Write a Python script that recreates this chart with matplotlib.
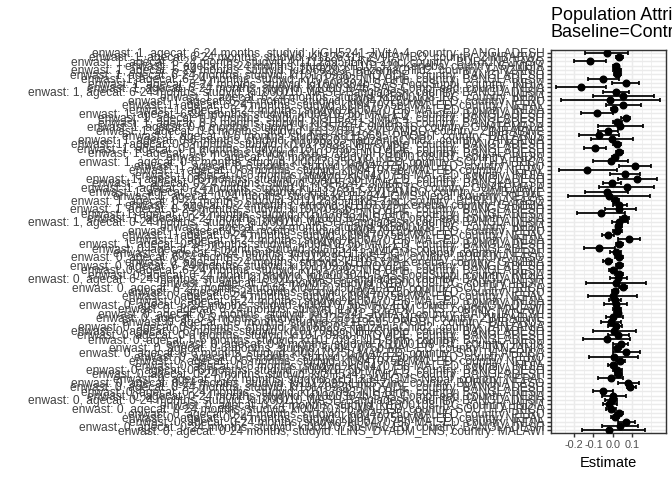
import numpy as np
import matplotlib
matplotlib.use('Agg')
import matplotlib.pyplot as plt

plt.rcParams['font.family'] = ['Liberation Sans', 'DejaVu Sans']

# study id / country pairs, alphabetical like the factor levels
studies = [
    ("iLiNS_DYADM_LNS", "MALAWI"),
    ("ki0047075b-MAL-ED", "BANGLADESH"),
    ("ki0047075b-MAL-ED", "INDIA"),
    ("ki0047075b-MAL-ED", "NEPAL"),
    ("ki0047075b-MAL-ED", "PERU"),
    ("ki0047075b-MAL-ED", "SOUTH AFRICA"),
    ("ki0047075b-MAL-ED", "TANZANIA"),
    ("ki1000108-IRC", "INDIA"),
    ("ki1000110-WASH-Bangladesh", "BANGLADESH"),
    ("ki1000304b-SAS-CompFeed", "INDIA"),
    ("ki1000304b-SAS-FoodSuppl", "INDIA"),
    ("ki1017093-NIH-Birth", "BANGLADESH"),
    ("ki1017093b-PROVIDE", "BANGLADESH"),
    ("ki1017093c-NIH-Crypto", "BANGLADESH"),
    ("ki1066203-TanzaniaChild2", "TANZANIA"),
    ("ki1101329-Keneba", "GAMBIA"),
    ("ki1112895-iLiNS-Zinc", "BURKINA FASO"),
    ("ki1113344-GMS-Nepal", "NEPAL"),
    ("ki1119695-PROBIT", "BELARUS"),
    ("ki1126311-ZVITAMBO", "ZIMBABWE"),
    ("ki1135781-COHORTS", "GUATEMALA"),
    ("ki1148112-LCNI-5", "MALAWI"),
    ("kiGH5241-JiVitA-3", "BANGLADESH"),
    ("kiGH5241-JiVitA-4", "BANGLADESH"),
]
agecats = ["0-24 months", "0-6 months", "6-24 months"]

# (enwast, agecat, studies in group), bottom of the axis first
groups = [
    (0, 0, [0, 1, 2, 3, 4, 5, 7, 8, 9, 11, 12, 16, 17, 22]),
    (0, 1, [1, 2, 3, 4, 5, 6, 7, 11, 12, 13, 14, 18, 19, 22]),
    (0, 2, [0, 1, 2, 3, 4, 5, 7, 8, 10, 11, 12, 15, 16, 17, 22]),
    (1, 0, [1, 2, 3, 4, 7, 8, 9, 11, 12, 15, 16, 17, 19, 20, 22]),
    (1, 1, [1, 2, 3, 4, 5, 7, 11, 12, 13, 14, 18, 19, 20, 22, 23]),
    (1, 2, [1, 2, 3, 4, 7, 8, 9, 10, 11, 12, 14, 15, 16, 19, 23]),
]

# estimates and 95% CI, top row first
est = [-0.031, 0.034, -0.118, 0.017, 0.021, 0.024, -0.049, 0.067, -0.166, 0.017,
       0.055, -0.014, 0.055, 0.007, -0.080, 0.067, 0.024, 0.038, -0.023, -0.071,
       -0.002, 0.021, -0.090, 0.034, 0.012, -0.011, 0.116, -0.131, 0.065, 0.126,
       -0.002, 0.072, -0.031, -0.019, 0.014, 0.034, 0.034, -0.059, 0.060, 0.034,
       0.029, 0.024, -0.026, 0.086, 0.034, -0.069, 0.015, 0.033, -0.026, 0.034,
       0.003, 0.034, 0.029, 0.015, 0.055, 0.012, 0.000, 0.012, 0.015, 0.024,
       0.026, 0.003, -0.009, 0.015, 0.008, 0.029, -0.031, 0.041, 0.021, 0.069,
       0.007, 0.038, 0.000, 0.024, 0.029, -0.011, 0.081, 0.090, -0.049, 0.003,
       -0.005, -0.017, -0.009, 0.034, 0.012, 0.069, 0.038, -0.019]
lo = [-0.144, 0.017, -0.199, 0.000, 0.003, 0.007, -0.130, -0.005, -0.296, -0.049,
      -0.104, -0.270, -0.035, -0.009, -0.164, 0.041, 0.000, -0.078, -0.078, -0.175,
      -0.112, 0.000, -0.149, 0.017, -0.005, -0.100, 0.034, -0.278, -0.014, 0.026,
      -0.049, -0.069, -0.144, -0.230, -0.005, 0.000, -0.040, -0.187, 0.038, -0.005,
      0.017, 0.003, -0.057, 0.029, 0.017, -0.147, -0.014, 0.012, -0.052, 0.017,
      -0.017, 0.012, -0.014, -0.140, 0.034, -0.005, -0.130, -0.017, -0.045, 0.003,
      0.007, -0.035, -0.062, -0.023, -0.100, -0.023, -0.152, 0.003, 0.000, 0.003,
      -0.121, 0.017, -0.023, 0.003, 0.012, -0.075, 0.029, 0.072, -0.100, -0.057,
      -0.040, -0.052, -0.035, 0.012, -0.009, 0.029, -0.057, -0.157]
hi = [0.077, 0.055, -0.035, 0.034, 0.041, 0.041, 0.034, 0.138, -0.035, 0.086,
      0.214, 0.245, 0.147, 0.024, 0.003, 0.090, 0.046, 0.159, 0.029, 0.034,
      0.104, 0.041, -0.035, 0.052, 0.029, 0.077, 0.197, 0.024, 0.141, 0.231,
      0.043, 0.214, 0.081, 0.193, 0.034, 0.072, 0.121, 0.064, 0.086, 0.081,
      0.046, 0.046, 0.008, 0.141, 0.055, 0.012, 0.041, 0.055, -0.005, 0.052,
      0.024, 0.055, 0.076, 0.171, 0.076, 0.029, 0.124, 0.041, 0.076, 0.041,
      0.043, 0.052, 0.041, 0.046, 0.121, 0.084, 0.090, 0.077, 0.041, 0.141,
      0.133, 0.064, 0.021, 0.046, 0.046, 0.055, 0.136, 0.121, 0.003, 0.069,
      0.024, 0.021, 0.017, 0.055, 0.034, 0.116, 0.133, 0.168]

labels = []
for enwast, ag, members in groups:
    for s in members:
        sid, country = studies[s]
        labels.append("enwast: %d, agecat: %s, studyid: %s, country: %s"
                      % (enwast, agecats[ag], sid, country))

est = np.array(est)
lo = np.array(lo)
hi = np.array(hi)
n = len(est)
ypos = np.arange(n)[::-1]

fig = plt.figure(figsize=(7, 5), dpi=96)
W, H = 672, 480
ax = fig.add_axes([551 / W, 1 - 433 / H, 115 / W, 383 / H])

ax.set_xlim(-0.320, 0.276)
ax.set_ylim(-0.6, n - 1 + 0.6)

# grid like theme_bw
for v in [-0.3, -0.25, -0.15, -0.05, 0.05, 0.15, 0.2]:
    ax.axvline(v, color='#EBEBEB', lw=0.53, zorder=0)
for v in [-0.2, -0.1, 0.0, 0.1]:
    ax.axvline(v, color='#EBEBEB', lw=1.07, zorder=0)
for y in range(n):
    ax.axhline(y, color='#EBEBEB', lw=1.07, zorder=0)

ax.errorbar(est, ypos, xerr=[est - lo, hi - est], fmt='o', color='black',
            ms=5, elinewidth=1.3, capsize=1.4, capthick=1.3, zorder=3)

ax.set_xticks([-0.2, -0.1, 0.0, 0.1])
ax.set_xticklabels(["-0.2", "-0.1", "0.0", "0.1"])
ax.set_yticks(range(n))
ax.set_yticklabels(labels)
ax.tick_params(axis='both', colors='#333333', length=2.75, width=1.07, pad=2.2)
ax.tick_params(axis='y', labelcolor='#404040', labelsize=9)
ax.tick_params(axis='x', labelcolor='#4D4D4D', labelsize=8.2)
for sp in ax.spines.values():
    sp.set_color('#333333')
    sp.set_linewidth(1.07)

ax.set_xlabel("Estimate", fontsize=11, color='black', labelpad=5)

fig.text(551 / W, 1 - 19.5 / H, "Population Attributable Difference",
         fontsize=13.5, va='baseline', ha='left')
fig.text(551 / W, 1 - 37 / H, "Baseline=Control",
         fontsize=13.5, va='baseline', ha='left')

fig.savefig("out.png", dpi=96)
